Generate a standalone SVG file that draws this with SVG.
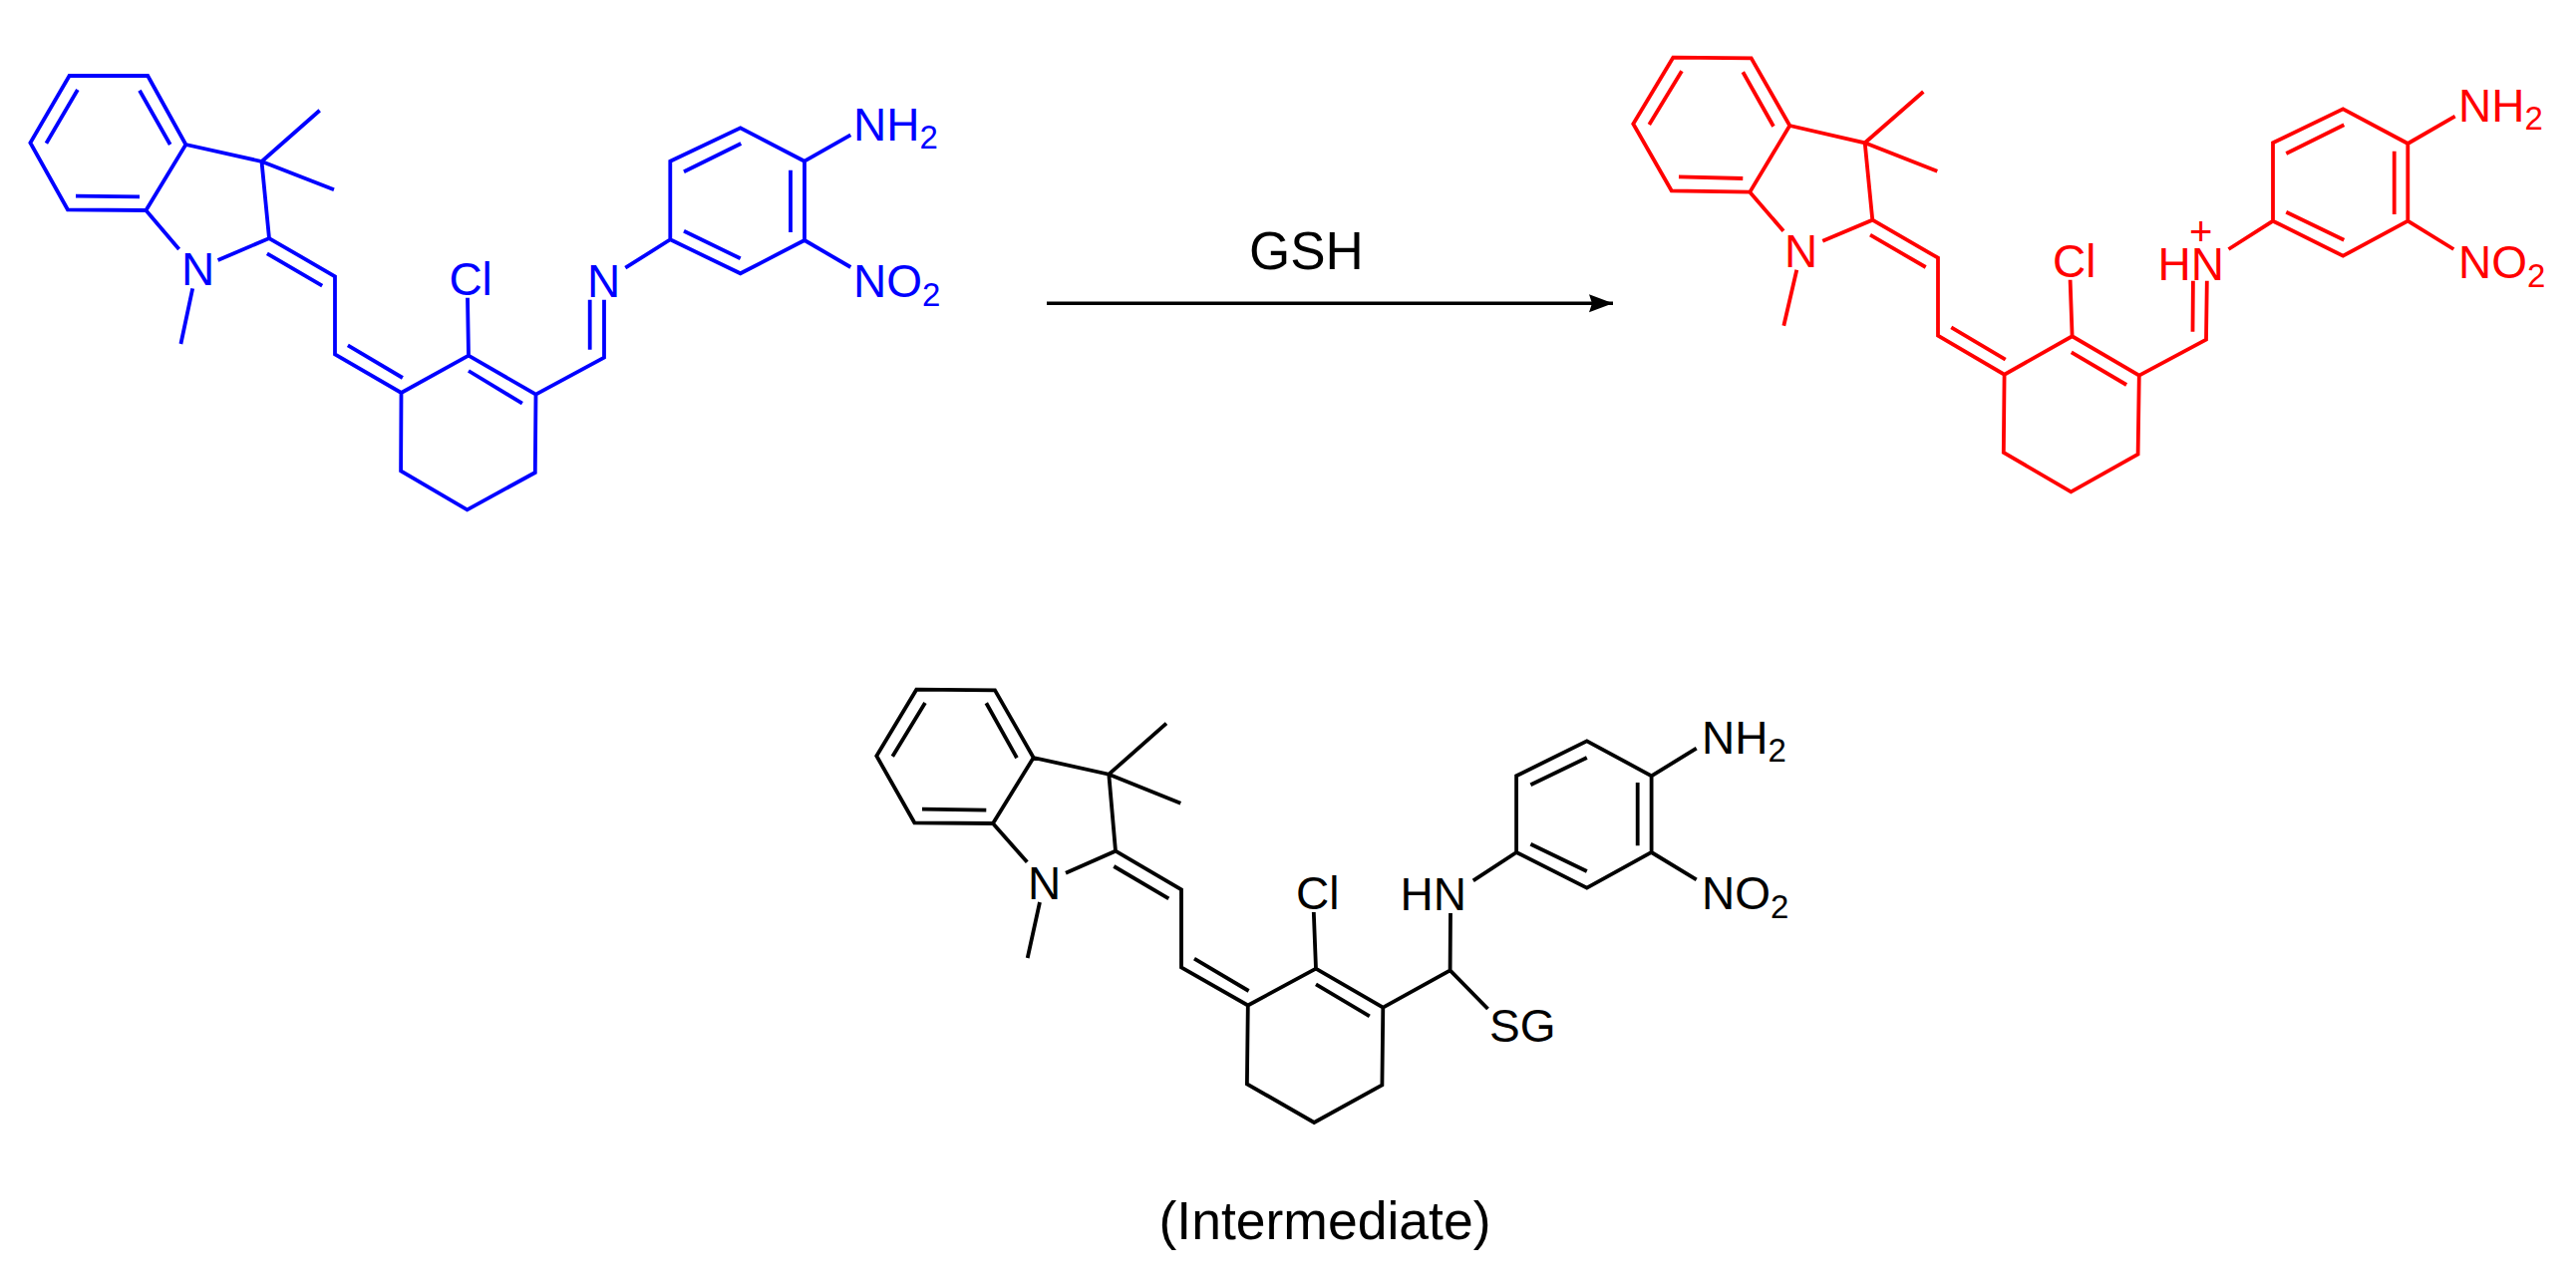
<svg xmlns="http://www.w3.org/2000/svg" width="2584" height="1292" viewBox="0 0 2584 1292">
<style>
text{font-family:"Liberation Sans",Arial,sans-serif;font-size:46px}
.s{font-size:33px}
.b{fill:none;stroke-width:3.8;stroke-linejoin:miter;stroke-linecap:butt}
.blue text{fill:#0000ff}.blue .b{stroke:#0000ff}
.red text{fill:#ff0000}.red .b{stroke:#ff0000}
.black text{fill:#000}.black .b{stroke:#000}
</style>
<defs>
<marker id="head" markerUnits="userSpaceOnUse" markerWidth="26" markerHeight="22" refX="24" refY="11" orient="auto" viewBox="0 0 26 22"><path d="M0 2L24 11L0 20L3 11Z" fill="#000"/></marker>
</defs>
<rect width="2584" height="1292" fill="#fff"/>
<g id="reactant" class="blue">
<path class="b" d="M69.6 76H148.2L186.4 145L146.4 211L67.9 210.3L30.4 143.3ZM77.9 90L46.4 143.7M140 90.7L170.7 145M76 196.7L140 197.3M186.4 145L262.5 162L270 239M262.5 162L320.7 110.7M262.5 162L335 190.3M146.4 211L179.6 250M218.6 261L270 239L336 277.3V355.3L402.5 394L470 356.7L537.5 395.7L536.8 474L468.6 511.3L402.1 472.3L402.5 394M267.9 254.3L323.2 286.7M348.9 346.3L403.9 379M470 372L523.9 404.7M470 356.7L469 298.7M193.2 289.3L181.4 345M537.5 395.7L606 358.7V300.7M591.7 350.7V300.7M627.3 268.7L672.3 240.3V161.7L742.7 128.3L807 161.7V241L742.7 274.3L672.3 240.3M686 172.3L743.3 144M793 170.7V233M686 231.7L742.7 259.3M807 161.7L853.3 135.3M807 241L853.3 268"/>
<text x="182" y="286">N</text>
<text x="450.4" y="295.5">Cl</text>
<text x="589" y="298">N</text>
<text x="856" y="141">NH<tspan class="s" dy="8">2</tspan></text>
<text x="856" y="298">NO<tspan class="s" dy="9">2</tspan></text>
</g>
<g id="product" class="red">
<path class="b" d="M1678.3 57.7L1756.7 58.3L1795.3 126L1755.3 192.7L1676.7 191.3L1638.3 124.3ZM1687 71.3L1654.3 125M1748.3 72.3L1779 126.7M1684 177.3L1748.3 179M1795.3 126L1870.7 143.3L1878.3 220.7M1870.7 143.3L1929.3 92M1870.7 143.3L1943.3 171.7M1755.3 192.7L1789 231.7M1828.3 241.7L1878.3 220.7L1944 258.7V336.7L2010.6 375.7L2078.6 337.3L2145.8 376.7L2144.6 455.7L2077.4 493.3L2009.8 454L2010.6 375.7M1876 235.7L1931.7 268M1957.3 328.3L2011.7 360.7M2077.8 353.3L2133.1 386M2078.6 337.3L2076.6 280.7M1802.3 270.7L1789.3 326.7M2145.8 376.7L2213 340.7L2213.8 281.7M2199.5 332.7L2199.9 281.7M2235.5 250L2280 221.7V143.3L2350.3 109.3L2415.3 144V221.7L2350.3 256.7L2280 221.7M2293.3 154L2351.3 125.3M2401.7 151.7V215M2293.3 212.7L2351.3 240.7M2415.3 144L2462.7 116.7M2415.3 221.7L2461.3 250"/>
<text x="1790" y="268.3">N</text>
<text x="2059" y="278">Cl</text>
<text x="2164.5" y="280.7">HN</text>
<text x="2207.8" y="246" text-anchor="middle" style="font-size:40px">+</text>
<text x="2466" y="121.7">NH<tspan class="s" dy="8.5">2</tspan></text>
<text x="2466" y="279.3">NO<tspan class="s" dy="8.5">2</tspan></text>
</g>
<g id="intermediate" class="black">
<path class="b" d="M919.3 691.7L998 692.3L1036.7 760L996 826L917.3 825.3L879.3 758.3ZM928 705L895.3 758.7M989.3 705.3L1020 760.3M925 811.7L989.3 812.7M1036.7 760L1112.3 776.7L1119 853.7M1112.3 776.7L1170 725.7M1112.3 776.7L1184.3 805.7M996 826L1030.3 864.7M1069 875.7L1119 853.7L1185 892.3V970.3L1251.8 1008.5L1320 971.7L1387.3 1010.7L1386.4 1088.3L1318.2 1126L1250.9 1087.3L1251.8 1008.5M1117.3 869L1172.3 901.3M1198 961.7L1252.6 994M1320 987.3L1373.8 1019.3M1320 971.7L1317.8 915M1043 905L1030.7 961M1387.3 1010.7L1454.6 973.3L1455 916M1454.6 973.3L1492.5 1012M1477.8 883.3L1521.1 855V778.3L1591.8 743.3L1656.6 778.3V855L1591.8 890.7L1521.1 855M1535.4 787.3L1591.8 760M1642.7 785V848.3M1535.4 846.7L1591.8 874M1656.6 778.3L1701.7 750.7M1656.6 855L1701.7 882.3"/>
<text x="1031" y="902.3">N</text>
<text x="1300" y="911.7">Cl</text>
<text x="1404.5" y="913.3">HN</text>
<text x="1494" y="1045">SG</text>
<text x="1707" y="755.7">NH<tspan class="s" dy="8.5">2</tspan></text>
<text x="1707" y="912.3">NO<tspan class="s" dy="9">2</tspan></text>
</g>
<g id="label-gsh"><text x="1253" y="269.5" style="font-size:53px">GSH</text></g>
<g id="label-intermediate"><text x="1162.5" y="1243.3" style="font-size:53.5px">(Intermediate)</text></g>
<g id="connectors"><line x1="1050" y1="304.3" x2="1618" y2="304.3" stroke="#000" stroke-width="3.6" marker-end="url(#head)"/></g>
</svg>
